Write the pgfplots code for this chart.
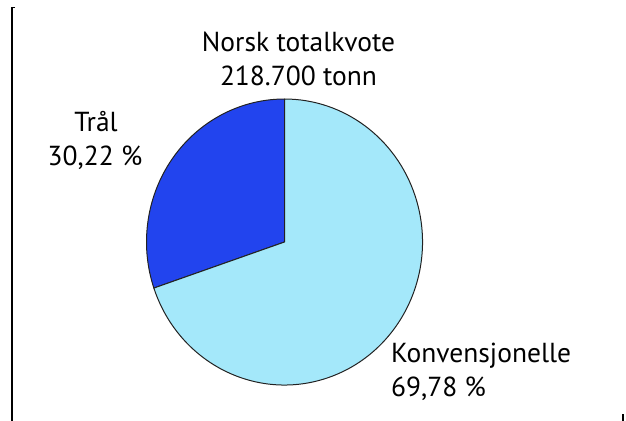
\documentclass[border=0pt]{standalone}
\usepackage{pgfplots}
\pgfplotsset{compat=1.18}
\usepackage{pgfplotstable}
\usepackage{fontspec}
\setmainfont{PT Sans}
\definecolor{tral}{HTML}{2244EE}
\definecolor{konv}{HTML}{A4E8FA}
\definecolor{edge}{HTML}{222222}
\pgfplotstableread{
label value
Tral 30.22
Konvensjonelle 69.78
}\piedata
\begin{document}
\begin{tikzpicture}
\pgfplotstablegetelem{0}{value}\of\piedata \let\vA\pgfplotsretval
\pgfplotstablegetelem{1}{value}\of\piedata \let\vB\pgfplotsretval
\pgfmathsetmacro{\aStart}{90}
\pgfmathsetmacro{\aMid}{90+3.6*\vA}
\pgfmathsetmacro{\aEnd}{\aMid+3.6*\vB}
\pgfmathsetmacro{\mx}{138*cos(\aMid)}
\pgfmathsetmacro{\my}{143*sin(\aMid)}
\begin{axis}[
  at={(0,0)}, anchor=south west,
  scale only axis, width=626bp, height=421bp,
  xmin=0, xmax=626, ymin=0, ymax=421, y dir=reverse,
  hide axis, clip=false,
]
% slices
\fill[tral, draw=edge, line width=1bp, line join=round]
  (axis cs:284.5,242) -- ++(0,143bp)
  arc[start angle=\aStart, end angle=\aMid, x radius=138bp, y radius=143bp] -- cycle;
\fill[konv, draw=edge, line width=1bp, line join=round]
  (axis cs:284.5,242) -- ++(\mx bp,\my bp)
  arc[start angle=\aMid, end angle=\aEnd, x radius=138bp, y radius=143bp] -- cycle;
% frame fragments
\draw[black, line width=1.6bp] (axis cs:15,7.5) -- (axis cs:12,7.5) -- (axis cs:12,421);
\draw[black, line width=1.6bp] (axis cs:623,414) -- (axis cs:623,421);
% labels
\tikzset{lab/.style={font=\fontsize{27.5bp}{32bp}\selectfont, inner xsep=0pt}}
\node[lab, anchor=base] at (axis cs:298.5,52) {Norsk totalkvote};
\node[lab, anchor=base] at (axis cs:298.5,86) {218.700 tonn};
\node[lab, anchor=base] at (axis cs:96,131) {Trål};
\node[lab, anchor=base] at (axis cs:95,165) {30,22 \%};
\node[lab, anchor=base west] at (axis cs:391,362) {Konvensjonelle};
\node[lab, anchor=base west] at (axis cs:391,396) {69,78 \%};
\end{axis}
\pgfresetboundingbox
\path (0,0) rectangle (626bp,421bp);
\end{tikzpicture}
\end{document}
